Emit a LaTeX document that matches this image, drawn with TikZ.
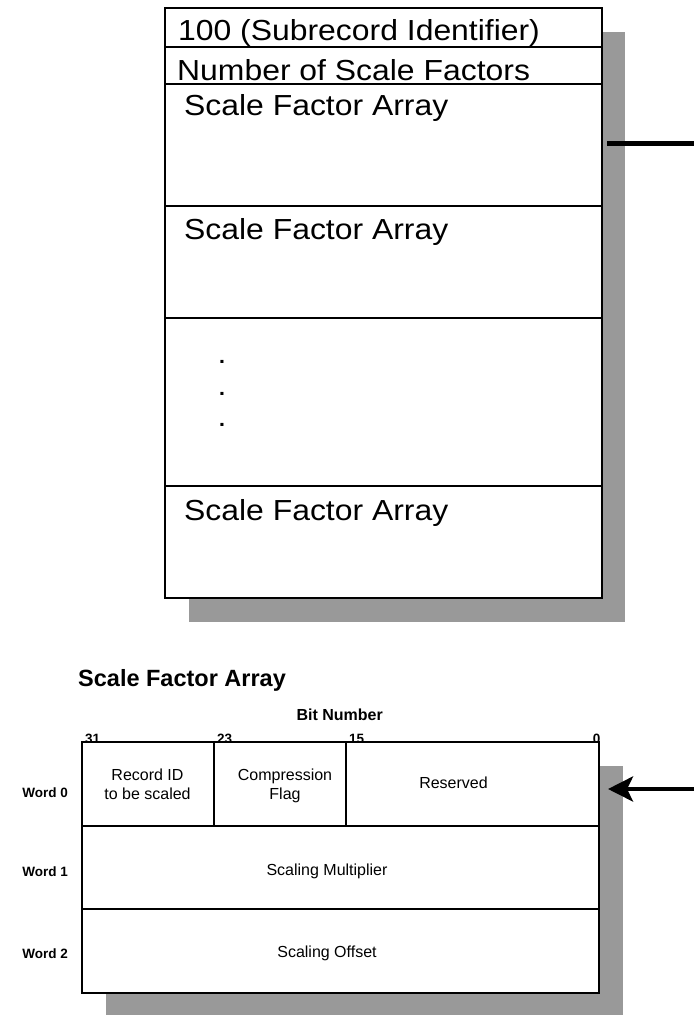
\documentclass[tikz,border=0pt]{standalone}
\usepackage{fontspec}
\setmainfont{Liberation Sans}
\newfontfamily\widesans[FakeStretch=1.1]{Liberation Sans}
\usetikzlibrary{arrows.meta}
\definecolor{shadowgray}{gray}{0.6}

\tikzset{
  shadowbox/.style={fill=shadowgray,draw=none},
  framebox/.style={draw,line width=2pt,fill=white,inner sep=0pt,outer sep=0pt,anchor=north west},
  divider/.style={line width=2pt},
  bigtext/.style={anchor=base west,inner sep=0pt,font=\widesans\fontsize{29}{35}\selectfont},
  celltext/.style={anchor=base,inner sep=0pt,align=center,font=\fontsize{16}{19}\selectfont},
  boldlabel/.style={inner sep=0pt,font=\bfseries\fontsize{13.5}{16}\selectfont},
}

\begin{document}
\begin{tikzpicture}[x=1pt,y=-1pt]
\useasboundingbox (0,0) rectangle (694,1015);

% subrecord
\fill[shadowbox] (188.5,31.5) rectangle (625,621.5);
\node[framebox,minimum width=436.7pt,minimum height=590pt] (rec) at (165,8) {};
\foreach \y in {46.7,84,206,318,486}
  \draw[divider] (165,\y) -- (601.7,\y);

\node[bigtext] (ident) at (178,40.7) {100 (Subrecord Identifier)};
\node[bigtext] (count) at (177,80) {Number of Scale Factors};
\node[bigtext] (arrA) at (184,115) {Scale Factor Array};
\node[bigtext] (arrB) at (184,239) {Scale Factor Array};
\node[bigtext] (arrN) at (184,520) {Scale Factor Array};
\foreach \y [count=\i] in {363.5,395,426.5}
  \node[bigtext] (dot\i) at (217.5,\y) {.};

\coordinate (recport) at (607,143);
\coordinate (recend) at (694,143);
\draw[line width=5pt] (recport) -- (recend);

% scale factor array
\node[anchor=base west,inner sep=0pt,font=\bfseries\fontsize{23.5}{28}\selectfont] (title) at (78,686.7) {Scale Factor Array};
\node[anchor=base,inner sep=0pt,font=\bfseries\fontsize{16}{19}\selectfont] (bitnum) at (339.7,720) {Bit Number};
\foreach \x/\b in {85/31,217/23,349/15}
  \node[boldlabel,anchor=base west] (bit\b) at (\x,743) {\b};
\node[boldlabel,anchor=base east] (bit0) at (600.5,743) {0};

\fill[shadowbox] (106,766) rectangle (622.7,1015);
\node[framebox,minimum width=516.9pt,minimum height=251.3pt] (sfa) at (81.7,741.7) {};
\draw[divider] (81.7,825.5) -- (598.6,825.5);
\draw[divider] (81.7,909) -- (598.6,909);
\draw[divider] (213.5,741.7) -- (213.5,825.5);
\draw[divider] (346,741.7) -- (346,825.5);

\node[celltext] (recid) at (147.5,799) {Record ID\\to be scaled};
\node[celltext] (cflag) at (285,799) {Compression\\Flag};
\node[celltext] (resv) at (453.5,788) {Reserved};
\node[celltext] (smult) at (327,875) {Scaling Multiplier};
\node[celltext] (soff) at (327,957) {Scaling Offset};

\foreach \w/\y in {0/797,1/876,2/958}
  \node[boldlabel,anchor=base east] (word\w) at (68,\y) {Word \w};

\coordinate (sfaport) at (608,789);
\coordinate (sfaend) at (694,789);
\draw[line width=4.5pt,-{Stealth[length=25pt,width=25pt,inset=6pt]}] (sfaend) -- (sfaport);

\end{tikzpicture}
\end{document}
